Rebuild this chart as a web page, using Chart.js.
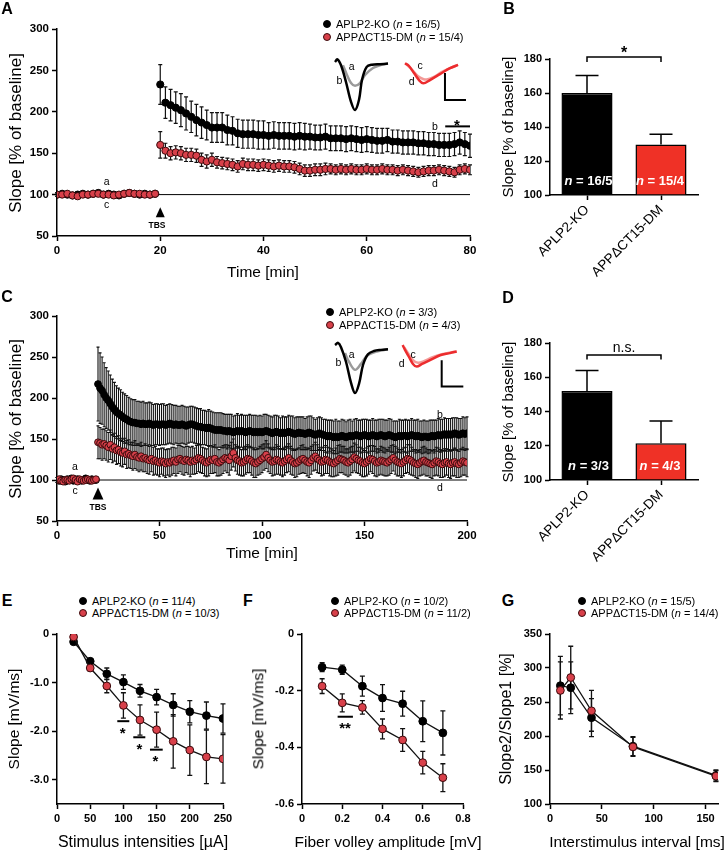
<!DOCTYPE html>
<html>
<head>
<meta charset="utf-8">
<script src="https://cdn.jsdelivr.net/npm/chart.js@4.4.1/dist/chart.umd.min.js"></script>
<style>
  body { margin: 0; width: 724px; height: 853px; background: #fff; position: relative; overflow: hidden;
         font-family: "Liberation Sans", Arial, sans-serif; color: #000; }
  canvas { position: absolute; }
  .txt { position: absolute; white-space: nowrap; line-height: 1; transform: translate(-50%, -50%); }
  .dot { position: absolute; width: 8px; height: 8px; border-radius: 50%; box-sizing: border-box; }
</style>
</head>
<body>
<canvas id="chartA"></canvas>
<canvas id="chartB"></canvas>
<canvas id="chartC"></canvas>
<canvas id="chartD"></canvas>
<canvas id="chartE"></canvas>
<canvas id="chartF"></canvas>
<canvas id="chartG"></canvas>
<canvas id="insetA1"></canvas>
<canvas id="insetA2"></canvas>
<canvas id="insetC1"></canvas>
<canvas id="insetC2"></canvas>
<script>
// ---------- data ----------
const groups = ["APLP2-KO", "APP\u0394CT15-DM"];

// A: LTP, 80 min
const minutesA = [0,1,2,3,4,5,6,7,8,9,10,11,12,13,14,15,16,17,18,19,
  20,21,22,23,24,25,26,27,28,29,30,31,32,33,34,35,36,37,38,39,40,41,42,43,44,45,46,47,48,49,
  50,51,52,53,54,55,56,57,58,59,60,61,62,63,64,65,66,67,68,69,70,71,72,73,74,75,76,77,78,79,80];
const koA = [100,101,100,99,100,101,100,101,102,100,101,100,99,101,102,101,100,101,100,101,
  233,211,208,205,202,198,194,190,187,184,181,181,181,178,177,174,
  173,173,173,172,172,171,172,171,171,171,170,171,170,170,169,169,170,168,168,168,167,168,167,166,167,
  166,165,165,166,164,164,163,163,163,162,162,161,161,160,160,160,161,163,161,159];
const koErrA = [2,2,3,2,2,2,3,2,2,2,3,2,2,2,3,2,2,2,2,2,
  24,19,19,19,20,20,19,19,19,18,18,18,18,18,17,17,
  17,17,17,17,17,16,16,16,16,16,16,16,16,15,15,15,15,15,15,15,15,15,15,15,15,
  15,15,15,14,14,14,14,14,14,14,14,14,14,14,14,14,14,14,14,14];
const dmA = [100,100,101,99,98,100,100,101,101,100,100,99,100,101,102,101,101,100,100,101,
  160,153,150,151,150,148,148,147,142,140,142,139,138,137,136,134,
  137,136,136,135,136,135,134,135,134,134,133,131,129,129,130,130,131,131,130,131,130,131,130,130,131,
  130,130,131,130,130,129,130,129,128,127,128,129,129,130,129,128,127,130,131,130];
const dmErrA = [2,2,2,2,2,2,2,2,2,2,2,2,2,2,2,2,2,2,2,2,
  16,9,8,8,8,8,8,8,8,8,8,7,7,7,7,7,
  7,7,7,7,7,7,7,7,7,7,7,7,7,7,7,7,7,6,6,6,6,6,6,6,6,
  6,6,6,6,6,6,6,6,6,6,6,6,6,6,6,6,6,6,6,6];

// B: mean LTP (last 5 min)
const koMeanB = [160, 129.7];
const errB = [10.3, 6];

// C: LTP, 200 min
const minutesC = [0,1,2,3,4,5,6,7,8,9,10,11,12,13,14,15,16,17,18,19,
  20,21,22,23,24,25,26,27,28,29,30,31,32,33,34,35,36,37,38,39,40,41,42,43,44,45,46,47,48,49,
  50,51,52,53,54,55,56,57,58,59,60,61,62,63,64,65,66,67,68,69,70,71,72,73,74,75,76,77,78,79,
  80,81,82,83,84,85,86,87,88,89,90,91,92,93,94,95,96,97,98,99,100,101,102,103,104,105,106,107,108,109,
  110,111,112,113,114,115,116,117,118,119,120,121,122,123,124,125,126,127,128,129,130,131,132,133,134,135,136,137,138,139,
  140,141,142,143,144,145,146,147,148,149,150,151,152,153,154,155,156,157,158,159,160,161,162,163,164,165,166,167,168,169,
  170,171,172,173,174,175,176,177,178,179,180,181,182,183,184,185,186,187,188,189,190,191,192,193,194,195,196,197,198,199,200];
const koC = [100,99,101,100,98,101,100,102,99,100,101,100,99,100,102,100,99,101,100,100,
  217,212,209,204,200,197,193,189,186,183,
  181,179,177,175,174,172,171,170,170,169,
  169,168,169,168,168,169,168,167,168,168,
  167,168,168,167,168,169,168,167,168,167,
  167,168,167,166,167,168,168,167,166,165,
  165,164,164,163,164,163,162,161,161,161,
  161,160,160,159,160,159,158,159,160,159,
  160,159,158,159,160,159,158,159,158,159,
  158,159,160,159,158,157,158,159,158,157,
  158,157,158,159,158,157,156,157,158,157,
  157,156,157,158,157,156,155,156,157,156,
  155,154,153,154,153,152,153,152,153,154,
  153,152,153,154,153,154,155,154,153,154,
  155,154,153,154,155,154,153,154,155,154,
  153,154,155,154,153,152,153,154,153,154,
  154,153,154,155,154,153,154,153,152,153,
  153,152,153,154,153,154,155,154,155,156,
  155,156,155,156,157,156,155,156,157,156,
  157];
const koErrC = [3,3,3,3,3,3,3,3,3,3,3,3,3,3,3,3,3,3,3,3,
  45,43,41,39,37,36,35,34,33,32,
  31,31,30,30,29,29,28,28,28,27,
  27,27,27,26,26,26,26,25,25,25,
  25,25,25,24,24,24,24,24,23,23,
  23,23,23,23,22,22,22,22,22,22,
  22,21,21,21,22,21,21,21,21,21,
  21,21,20,21,20,21,20,20,21,20,
  20,20,21,20,20,20,21,20,20,20,
  20,21,20,20,20,20,21,20,20,19,
  20,20,19,20,20,21,20,20,19,20,
  20,19,20,20,21,20,19,20,20,20,
  19,20,20,19,20,20,21,20,19,20,
  20,19,20,20,19,20,20,19,20,20,
  19,20,20,19,20,19,20,20,19,20,
  20,19,20,20,19,20,19,20,20,19,
  20,20,19,20,19,20,20,19,20,20,
  19,20,20,19,20,19,20,20,19,20,
  20,19,20,20,19,20,20,19,20,20,
  20];
const dmC = [100,101,99,98,100,100,99,101,102,100,98,101,100,99,100,101,100,99,100,101,
  146,145,143,144,142,140,143,138,140,136,
  137,134,133,135,131,132,130,129,131,128,
  127,129,126,127,125,124,126,123,124,122,
  121,123,122,120,122,121,123,124,122,125,
  126,124,123,125,124,122,124,123,125,127,
  126,124,122,121,123,125,124,126,122,121,
  123,125,127,126,124,129,133,127,124,123,
  121,122,124,126,125,123,121,120,122,124,
  126,128,131,127,124,122,123,125,124,122,
  121,123,125,127,124,122,120,121,123,125,
  126,124,122,121,124,127,129,126,124,122,
  123,125,124,122,121,120,122,124,126,125,
  124,122,121,123,125,128,126,124,123,121,
  120,122,124,126,125,123,121,122,124,123,
  122,121,123,125,127,124,122,121,120,122,
  124,126,125,123,121,120,119,121,123,124,
  122,121,120,119,121,123,122,120,119,121,
  122,120,119,121,122,120,119,121,123,122,
  121];
const dmErrC = [3,3,3,3,3,3,3,3,3,3,3,3,3,3,3,3,3,3,3,3,
  20,19,19,18,18,18,18,17,17,17,
  17,17,17,16,17,17,16,17,17,16,
  17,17,16,17,17,17,16,17,17,16,
  17,16,17,17,16,17,17,16,17,17,
  16,17,17,16,17,18,17,16,17,17,
  17,16,17,17,18,17,16,17,17,16,
  17,17,16,17,18,17,17,16,17,17,
  16,17,17,17,16,17,18,17,16,17,
  17,16,17,17,16,17,17,18,17,16,
  17,17,16,17,17,16,17,17,16,17,
  17,16,17,18,17,16,17,17,16,17,
  17,17,16,17,17,16,17,18,17,16,
  17,16,17,17,16,17,17,16,17,17,
  16,17,17,16,17,18,17,16,17,17,
  17,16,17,17,16,17,17,16,17,17,
  16,17,18,17,16,17,17,16,17,17,
  17,16,17,17,16,17,17,17,16,17,
  16,17,17,16,17,17,16,17,17,16,
  17];

// D: mean LTP (last 5 min)
const koMeanD = [152, 121.5];
const errD = [12, 13];

// E: input-output, stimulus intensity
const stimulusE = [25, 50, 75, 100, 125, 150, 175, 200, 225, 250];
const koE = [-0.16, -0.56, -0.82, -0.99, -1.17, -1.30, -1.46, -1.60, -1.68, -1.74];
const koErrE = [0.03, 0.05, 0.12, 0.15, 0.13, 0.16, 0.23, 0.23, 0.28, 0.30];
const dmE = [-0.06, -0.70, -1.07, -1.47, -1.77, -1.97, -2.21, -2.39, -2.53, -2.57];
const dmErrE = [0.03, 0.06, 0.14, 0.26, 0.31, 0.36, 0.55, 0.52, 0.55, 0.50];

// F: input-output, fiber volley
const volleyF = [0.1, 0.2, 0.3, 0.4, 0.5, 0.6, 0.7];
const koF = [-0.117, -0.126, -0.184, -0.226, -0.246, -0.308, -0.349];
const koErrF = [0.016, 0.016, 0.035, 0.047, 0.044, 0.072, 0.078];
const dmF = [-0.184, -0.243, -0.259, -0.335, -0.374, -0.454, -0.507];
const dmErrF = [0.026, 0.032, 0.024, 0.035, 0.040, 0.040, 0.049];

// G: paired-pulse facilitation
const intervalG = [10, 20, 40, 80, 160];
const koG = [274, 271, 227, 185, 142];
const koErrG = [43, 38, 28, 14, 8];
const dmG = [267, 286, 237, 184, 141];
const dmErrG = [42, 46, 30, 14, 8];

// tick values
const ticksSlopePct = [50, 100, 150, 200, 250, 300];
const ticksMinA = [0, 20, 40, 60, 80];
const ticksMinC = [0, 50, 100, 150, 200];
const ticksBar = [100, 120, 140, 160, 180];
const ticksStimX = [0, 50, 100, 150, 200, 250];
const ticksStimY = [0, -1, -2, -3];
const ticksVolX = [0, 0.2, 0.4, 0.6, 0.8];
const ticksVolY = [0, -0.2, -0.4, -0.6];
const ticksPpfX = [0, 50, 100, 150];
const ticksPpfY = [100, 150, 200, 250, 300, 350];

// example fEPSP traces (ms, mV)
const traceA_b = [[0,0],[0.33,0.05],[0.86,-0.06],[1.57,-0.37],[2.29,-0.74],[2.86,-0.89],[3.43,-0.70],[3.86,-0.33],[4.53,-0.09],[5.29,-0.05],[6.43,-0.04],[7.57,-0.03]];
const traceA_a = [[1.14,-0.06],[1.71,-0.24],[2.29,-0.39],[2.86,-0.44],[3.57,-0.39],[4.29,-0.24],[5.43,-0.11],[6.43,-0.06],[7.57,-0.03]];
const traceA_d = [[0,0],[0.57,-0.05],[1.29,-0.18],[2,-0.31],[2.61,-0.37],[3.57,-0.31],[5,-0.2],[6.43,-0.09],[7.57,-0.03]];
const traceA_c = [[0.14,-0.01],[1,-0.12],[1.86,-0.24],[2.57,-0.29],[3.1,-0.3],[4,-0.26],[5.29,-0.16],[6.43,-0.09],[7.57,-0.03]];
const scaleBarA = [[5.71,-0.18],[5.71,-0.68],[8.71,-0.68]];
const traceC_b = [[0,0],[0.43,0.04],[0.86,-0.04],[1.57,-0.31],[2.29,-0.70],[2.86,-0.89],[3.43,-0.72],[4,-0.37],[4.71,-0.17],[5.57,-0.11],[6.57,-0.09],[7.57,-0.08]];
const traceC_a = [[1.43,-0.15],[2,-0.31],[2.86,-0.46],[3.71,-0.35],[4.57,-0.2],[5.96,-0.12],[7.57,-0.08]];
const traceC_d = [[0,0],[0.33,-0.09],[0.9,-0.22],[1.47,-0.35],[2,-0.40],[2.76,-0.35],[3.9,-0.28],[5.33,-0.19],[6.76,-0.15],[7.71,-0.12]];
const traceC_c = [[0.19,-0.04],[0.76,-0.15],[1.47,-0.28],[2.19,-0.33],[3.04,-0.30],[4.19,-0.23],[5.61,-0.17],[6.76,-0.14],[7.71,-0.12]];
const scaleBarC = [[5.57,-0.28],[5.57,-0.77],[8.66,-0.77]];

// ---------- setup ----------
Chart.defaults.font.family = '"Liberation Sans", Arial, sans-serif';
Chart.defaults.color = "#000";
Chart.defaults.animation = false;
Chart.defaults.events = [];
Chart.defaults.plugins.legend.display = false;
Chart.defaults.plugins.tooltip.enabled = false;

const KO = "#000";
const DM_FILL = "#d8404a";
const DM_EDGE = "#3a0a0c";

function drawErrors(chart, opts) {
  const ctx = chart.ctx;
  const ys = chart.scales.y;
  ctx.save();
  ctx.strokeStyle = opts.color || "#000";
  ctx.lineWidth = opts.lineWidth || 1;
  chart.data.datasets.forEach((ds, i) => {
    if (!ds.errors) return;
    const meta = chart.getDatasetMeta(i);
    meta.data.forEach((el, j) => {
      const v = meta.controller.getParsed(j).y;
      const e = ds.errors[j];
      const top = ys.getPixelForValue(v + e);
      const bot = ys.getPixelForValue(opts.upOnly ? v : v - e);
      const h = (opts.cap || 4) / 2;
      ctx.beginPath();
      ctx.moveTo(el.x, top); ctx.lineTo(el.x, bot);
      ctx.moveTo(el.x - h, top); ctx.lineTo(el.x + h, top);
      if (!opts.upOnly) { ctx.moveTo(el.x - h, bot); ctx.lineTo(el.x + h, bot); }
      ctx.stroke();
    });
  });
  ctx.restore();
}

function drawShape(chart, s) {
  const ctx = chart.ctx, xs = chart.scales.x, ys = chart.scales.y;
  ctx.save();
  ctx.strokeStyle = "#000"; ctx.fillStyle = "#000";
  ctx.lineWidth = s.lineWidth || 1.5;
  if (s.kind === "hline") {
    const y = ys.getPixelForValue(s.y);
    ctx.beginPath();
    ctx.moveTo(xs.getPixelForValue(s.x0), y);
    ctx.lineTo(xs.getPixelForValue(s.x1), y);
    ctx.stroke();
  } else if (s.kind === "bracket") {
    const y = ys.getPixelForValue(s.y), yd = ys.getPixelForValue(s.drop);
    const a = xs.getPixelForValue(s.x0), b = xs.getPixelForValue(s.x1);
    ctx.beginPath();
    ctx.moveTo(a, yd); ctx.lineTo(a, y); ctx.lineTo(b, y); ctx.lineTo(b, yd);
    ctx.stroke();
  } else if (s.kind === "triangle") {
    const x = xs.getPixelForValue(s.x);
    const t = ys.getPixelForValue(s.top), b = ys.getPixelForValue(s.bottom);
    const h = (b - t) * 0.45;
    ctx.beginPath();
    ctx.moveTo(x, t); ctx.lineTo(x + h, b); ctx.lineTo(x - h, b); ctx.closePath();
    ctx.fill();
  }
  ctx.restore();
}

Chart.register({
  id: "errorBars",
  beforeDatasetsDraw(chart, args, opts) { if (!opts.onTop) drawErrors(chart, opts); },
  afterDatasetsDraw(chart, args, opts) { if (opts.onTop) drawErrors(chart, opts); }
});
Chart.register({
  id: "extras",
  beforeDatasetsDraw(chart, args, opts) { (opts.under || []).forEach(s => drawShape(chart, s)); },
  afterDatasetsDraw(chart, args, opts) { (opts.over || []).forEach(s => drawShape(chart, s)); }
});

function linearAxis(min, max, ticks, fmt, size) {
  return {
    type: "linear", min, max,
    afterBuildTicks: s => { s.ticks = ticks.map(v => ({ value: v })); },
    border: { display: true, color: "#000", width: 1.5 },
    grid: { display: true, drawOnChartArea: false, drawTicks: true, tickLength: 5, tickWidth: 1.5, tickColor: "#000" },
    ticks: { color: "#000", padding: 3, font: { size: size || 11, weight: "bold" }, callback: fmt || (v => String(v)) }
  };
}

function categoryAxis() {
  return {
    type: "category", offset: true,
    border: { display: true, color: "#000", width: 1.5 },
    grid: { display: true, offset: false, drawOnChartArea: false, drawTicks: true, tickLength: 5, tickWidth: 1.5, tickColor: "#000" },
    ticks: { color: "#000", autoSkip: false, minRotation: 45, maxRotation: 45, padding: 2, font: { size: 13.5 } }
  };
}

function makeChart(id, box, plot, config) {
  const c = document.getElementById(id);
  c.width = box.w; c.height = box.h;
  c.style.left = box.x + "px"; c.style.top = box.y + "px";
  c.style.width = box.w + "px"; c.style.height = box.h + "px";
  config.options.responsive = false;
  config.options.maintainAspectRatio = false;
  config.options.layout = { padding: { left: 0, top: plot.t - box.y, right: box.x + box.w - plot.r, bottom: 0 } };
  config.options.scales.x.afterFit = s => { s.height = box.y + box.h - plot.b; };
  config.options.scales.y.afterFit = s => { s.width = plot.l - box.x; };
  return new Chart(c, config);
}

function pts(xs, ys) { return xs.map((x, i) => ({ x, y: ys[i] })); }
function pairs(arr) { return arr.map(p => ({ x: p[0], y: p[1] })); }

function koSet(data, errors, r, line) {
  return { data, errors, order: 1, showLine: !!line, borderColor: "#111", borderWidth: 1.3,
           pointRadius: r, pointBackgroundColor: KO, pointBorderColor: KO, pointBorderWidth: 1 };
}
function dmSet(data, errors, r, line) {
  return { data, errors, order: 0, showLine: !!line, borderColor: "#111", borderWidth: 1.3,
           pointRadius: r, pointBackgroundColor: DM_FILL, pointBorderColor: DM_EDGE, pointBorderWidth: 1 };
}

// ---------- A ----------
makeChart("chartA", { x: 0, y: 0, w: 480, h: 265 }, { l: 57, t: 29, r: 470, b: 236 }, {
  type: "scatter",
  data: { datasets: [koSet(pts(minutesA, koA), koErrA, 3.6), dmSet(pts(minutesA, dmA), dmErrA, 3.6)] },
  options: {
    scales: { x: linearAxis(0, 80, ticksMinA, null, 11.5), y: linearAxis(50, 300, ticksSlopePct, null, 11.5) },
    plugins: {
      errorBars: { color: "#111", lineWidth: 1.2, cap: 4 },
      extras: {
        under: [{ kind: "hline", y: 100, x0: 0, x1: 80, lineWidth: 1 }],
        over: [{ kind: "hline", y: 182.4, x0: 75.2, x1: 80, lineWidth: 2 },
               { kind: "triangle", x: 20, top: 84.6, bottom: 72.5 }]
      }
    }
  }
});

// ---------- B ----------
function barConfig(means, errs, bracketY, dropY) {
  return {
    type: "bar",
    data: { labels: groups, datasets: [{ data: means, errors: errs, base: 100,
      backgroundColor: ["#000", "#ef3126"], borderColor: "#000", borderWidth: 1.5,
      barPercentage: 0.69, categoryPercentage: 1.0 }] },
    options: {
      scales: { x: categoryAxis(), y: linearAxis(100, 180, ticksBar) },
      plugins: {
        errorBars: { color: "#000", lineWidth: 1.5, cap: 23, upOnly: true, onTop: true },
        extras: { over: [{ kind: "bracket", x0: 0, x1: 1, y: bracketY, drop: dropY }] }
      }
    }
  };
}
makeChart("chartB", { x: 490, y: 0, w: 234, h: 285 }, { l: 550, t: 59, r: 698, b: 195 },
  barConfig(koMeanB, errB, 181.2, 178.3));

// ---------- C ----------
makeChart("chartC", { x: 0, y: 285, w: 480, h: 265 }, { l: 57, t: 316, r: 467, b: 521 }, {
  type: "scatter",
  data: { datasets: [koSet(pts(minutesC, koC), koErrC, 3.4), dmSet(pts(minutesC, dmC), dmErrC, 3.4)] },
  options: {
    scales: { x: linearAxis(0, 200, ticksMinC, null, 11.5), y: linearAxis(50, 300, ticksSlopePct, null, 11.5) },
    plugins: {
      errorBars: { color: "#111", lineWidth: 1.1, cap: 3 },
      extras: {
        under: [{ kind: "hline", y: 100, x0: 0, x1: 200, lineWidth: 1 }],
        over: [{ kind: "triangle", x: 20, top: 90.9, bottom: 76.2 }]
      }
    }
  }
});

// ---------- D ----------
makeChart("chartD", { x: 490, y: 285, w: 234, h: 290 }, { l: 550, t: 343, r: 698, b: 480 },
  barConfig(koMeanD, errD, 173, 170.3));

// ---------- E ----------
makeChart("chartE", { x: 0, y: 620, w: 240, h: 233 }, { l: 57, t: 634, r: 223, b: 804 }, {
  type: "scatter",
  data: { datasets: [koSet(pts(stimulusE, koE), koErrE, 3.9, true), dmSet(pts(stimulusE, dmE), dmErrE, 3.9, true)] },
  options: {
    scales: { x: linearAxis(0, 250, ticksStimX), y: linearAxis(-3.5, 0, ticksStimY, v => v === 0 ? "0" : v.toFixed(1)) },
    plugins: {
      errorBars: { color: "#111", lineWidth: 1.3, cap: 5 },
      extras: { over: [
        { kind: "hline", y: -1.795, x0: 90.8, x1: 108.9, lineWidth: 2 },
        { kind: "hline", y: -2.126, x0: 114.9, x1: 133, lineWidth: 2 },
        { kind: "hline", y: -2.381, x0: 140, x1: 159.2, lineWidth: 2 }
      ] }
    }
  }
});

// ---------- F ----------
makeChart("chartF", { x: 245, y: 620, w: 235, h: 233 }, { l: 302, t: 634, r: 463, b: 804 }, {
  type: "scatter",
  data: { datasets: [koSet(pts(volleyF, koF), koErrF, 3.9, true), dmSet(pts(volleyF, dmF), dmErrF, 3.9, true)] },
  options: {
    scales: { x: linearAxis(0, 0.8, ticksVolX, v => v === 0 ? "0" : v.toFixed(1)),
              y: linearAxis(-0.6, 0, ticksVolY, v => v === 0 ? "0" : v.toFixed(1)) },
    plugins: {
      errorBars: { color: "#111", lineWidth: 1.3, cap: 5 },
      extras: { over: [{ kind: "hline", y: -0.292, x0: 0.177, x1: 0.253, lineWidth: 2 }] }
    }
  }
});

// ---------- G ----------
makeChart("chartG", { x: 490, y: 620, w: 234, h: 233 }, { l: 550, t: 634, r: 718, b: 804 }, {
  type: "scatter",
  data: { datasets: [koSet(pts(intervalG, koG), koErrG, 3.9, true), dmSet(pts(intervalG, dmG), dmErrG, 3.9, true)] },
  options: {
    scales: { x: linearAxis(0, 162, ticksPpfX), y: linearAxis(100, 350, ticksPpfY) },
    plugins: { errorBars: { color: "#111", lineWidth: 1.3, cap: 5 } }
  }
});

// ---------- example traces ----------
function inset(id, box, xr, yr, sets) {
  const c = document.getElementById(id);
  c.width = box.w; c.height = box.h;
  c.style.left = box.x + "px"; c.style.top = box.y + "px";
  c.style.width = box.w + "px"; c.style.height = box.h + "px";
  new Chart(c, {
    type: "scatter",
    data: { datasets: sets.map(s => ({ data: pairs(s.data), showLine: true, borderColor: s.color,
      borderWidth: s.width, pointRadius: 0, tension: s.bar ? 0 : 0.35, order: s.order })) },
    options: {
      responsive: false, layout: { padding: 0 },
      scales: { x: { type: "linear", display: false, min: xr[0], max: xr[1] },
                y: { type: "linear", display: false, min: yr[0], max: yr[1] } }
    }
  });
}
inset("insetA1", { x: 333, y: 56, w: 58, h: 58 }, [-0.286, 8.0], [-0.963, 0.111], [
  { data: traceA_a, color: "#9a9a9a", width: 2.5, order: 1 },
  { data: traceA_b, color: "#000", width: 2.5, order: 0 }]);
inset("insetA2", { x: 400, y: 56, w: 72, h: 50 }, [-0.714, 9.57], [-0.79, 0.135], [
  { data: traceA_c, color: "#f39a98", width: 2.5, order: 1 },
  { data: traceA_d, color: "#ec2c2e", width: 2.5, order: 0 },
  { data: scaleBarA, color: "#000", width: 2, bar: true, order: 2 }]);
inset("insetC1", { x: 333, y: 338, w: 58, h: 60 }, [-0.286, 8.0], [-0.981, 0.13], [
  { data: traceC_a, color: "#9a9a9a", width: 2.5, order: 1 },
  { data: traceC_b, color: "#000", width: 2.5, order: 0 }]);
inset("insetC2", { x: 398, y: 338, w: 72, h: 54 }, [-0.671, 9.614], [-0.87, 0.13], [
  { data: traceC_c, color: "#f39a98", width: 2.5, order: 1 },
  { data: traceC_d, color: "#ec2c2e", width: 2.5, order: 0 },
  { data: scaleBarC, color: "#000", width: 2, bar: true, order: 2 }]);

// ---------- text ----------
function put(x, y, html, size, extra) {
  const d = document.createElement("div");
  d.className = "txt";
  d.style.left = x + "px"; d.style.top = y + "px"; d.style.fontSize = size + "px";
  d.innerHTML = html;
  Object.assign(d.style, extra || {});
  document.body.appendChild(d);
  return d;
}
const LEFT = { transform: "translate(0,-50%)" };
const BOLD = { fontWeight: "bold" };
const STAR = { fontWeight: "bold", transform: "translate(-50%, calc(-50% + 0.23em))" };
const ROT = { transform: "translate(-50%,-50%) rotate(-90deg)" };

function legendRow(x, y, fill, edge, html) {
  const d = document.createElement("div");
  d.className = "dot";
  d.style.left = (x - 4) + "px"; d.style.top = (y - 4) + "px";
  d.style.background = fill; d.style.border = "1px solid " + edge;
  document.body.appendChild(d);
  put(x + 9, y, html, 11, LEFT);
}
function legend(x, y0, y1, nKo, nDm) {
  legendRow(x, y0, KO, KO, groups[0] + " (<i>n</i> = " + nKo + ")");
  legendRow(x, y1, DM_FILL, DM_EDGE, groups[1] + " (<i>n</i> = " + nDm + ")");
}

// panel letters
[["A", 7, 9], ["B", 509, 9], ["C", 7, 297], ["D", 508, 298], ["E", 7, 601], ["F", 248, 601], ["G", 508, 601]]
  .forEach(p => put(p[1], p[2], p[0], 16, BOLD));

// axis titles
put(15, 132.5, "Slope [% of baseline]", 17, ROT);
put(263, 272, "Time [min]", 15.5);
put(507, 127, "Slope [% of baseline]", 15, ROT);
put(15, 418.5, "Slope [% of baseline]", 17, ROT);
put(262, 553, "Time [min]", 15.5);
put(507, 411.5, "Slope [% of baseline]", 15, ROT);
put(14, 719, "Slope [mV/ms]", 15.5, ROT);
put(143, 842, "Stimulus intensities [\u00b5A]", 16);
put(258, 719, "Slope [mV/ms]", 15.5, ROT);
put(388, 842, "Fiber volley amplitude [mV]", 15.5);
put(506, 719, "Slope2/Slope1 [%]", 16, ROT);
put(637, 842, "Interstimulus interval [ms]", 15.5);

// legends
legend(327, 24, 36.5, "16/5", "15/4");
legend(330, 312, 325, "3/3", "4/3");
legend(83, 601, 613, "11/4", "10/3");
legend(335, 601, 613, "10/2", "11/2");
legend(582, 601, 613, "15/5", "14/4");

// A annotations
put(106.7, 181, "a", 10.5); put(106.7, 204, "c", 10.5);
put(157, 225, "TBS", 8.5, BOLD);
put(435, 126, "b", 10.5); put(435, 183, "d", 10.5);
put(457, 121, "*", 15, STAR);
put(351.7, 66, "a", 10.5); put(339.3, 80, "b", 10.5);
put(420, 65, "c", 10.5); put(411.7, 80.7, "d", 10.5);

// C annotations
put(75, 466, "a", 10.5); put(75, 490, "c", 10.5);
put(98, 507, "TBS", 8.5, BOLD);
put(440, 414, "b", 10.5); put(440, 487, "d", 10.5);
put(351.7, 354, "a", 10.5); put(338.3, 361.7, "b", 10.5);
put(413, 354, "c", 10.5); put(401.7, 362.7, "d", 10.5);

// B / D annotations
put(624, 49, "*", 16, STAR);
put(588.5, 180, "<i>n</i> = 16/5", 13, { fontWeight: "bold", color: "#fff" });
put(660, 180, "<i>n</i> = 15/4", 13, { fontWeight: "bold", color: "#fff" });
put(624, 347, "n.s.", 14);
put(588.5, 465, "<i>n</i> = 3/3", 13, { fontWeight: "bold", color: "#fff" });
put(660, 465, "<i>n</i> = 4/3", 13, { fontWeight: "bold", color: "#fff" });

// E / F significance
put(122.7, 728.5, "*", 15, STAR);
put(139.3, 744.5, "*", 15, STAR);
put(155.5, 757, "*", 15, STAR);
put(345, 723.5, "**", 15, STAR);
</script>
</body>
</html>
